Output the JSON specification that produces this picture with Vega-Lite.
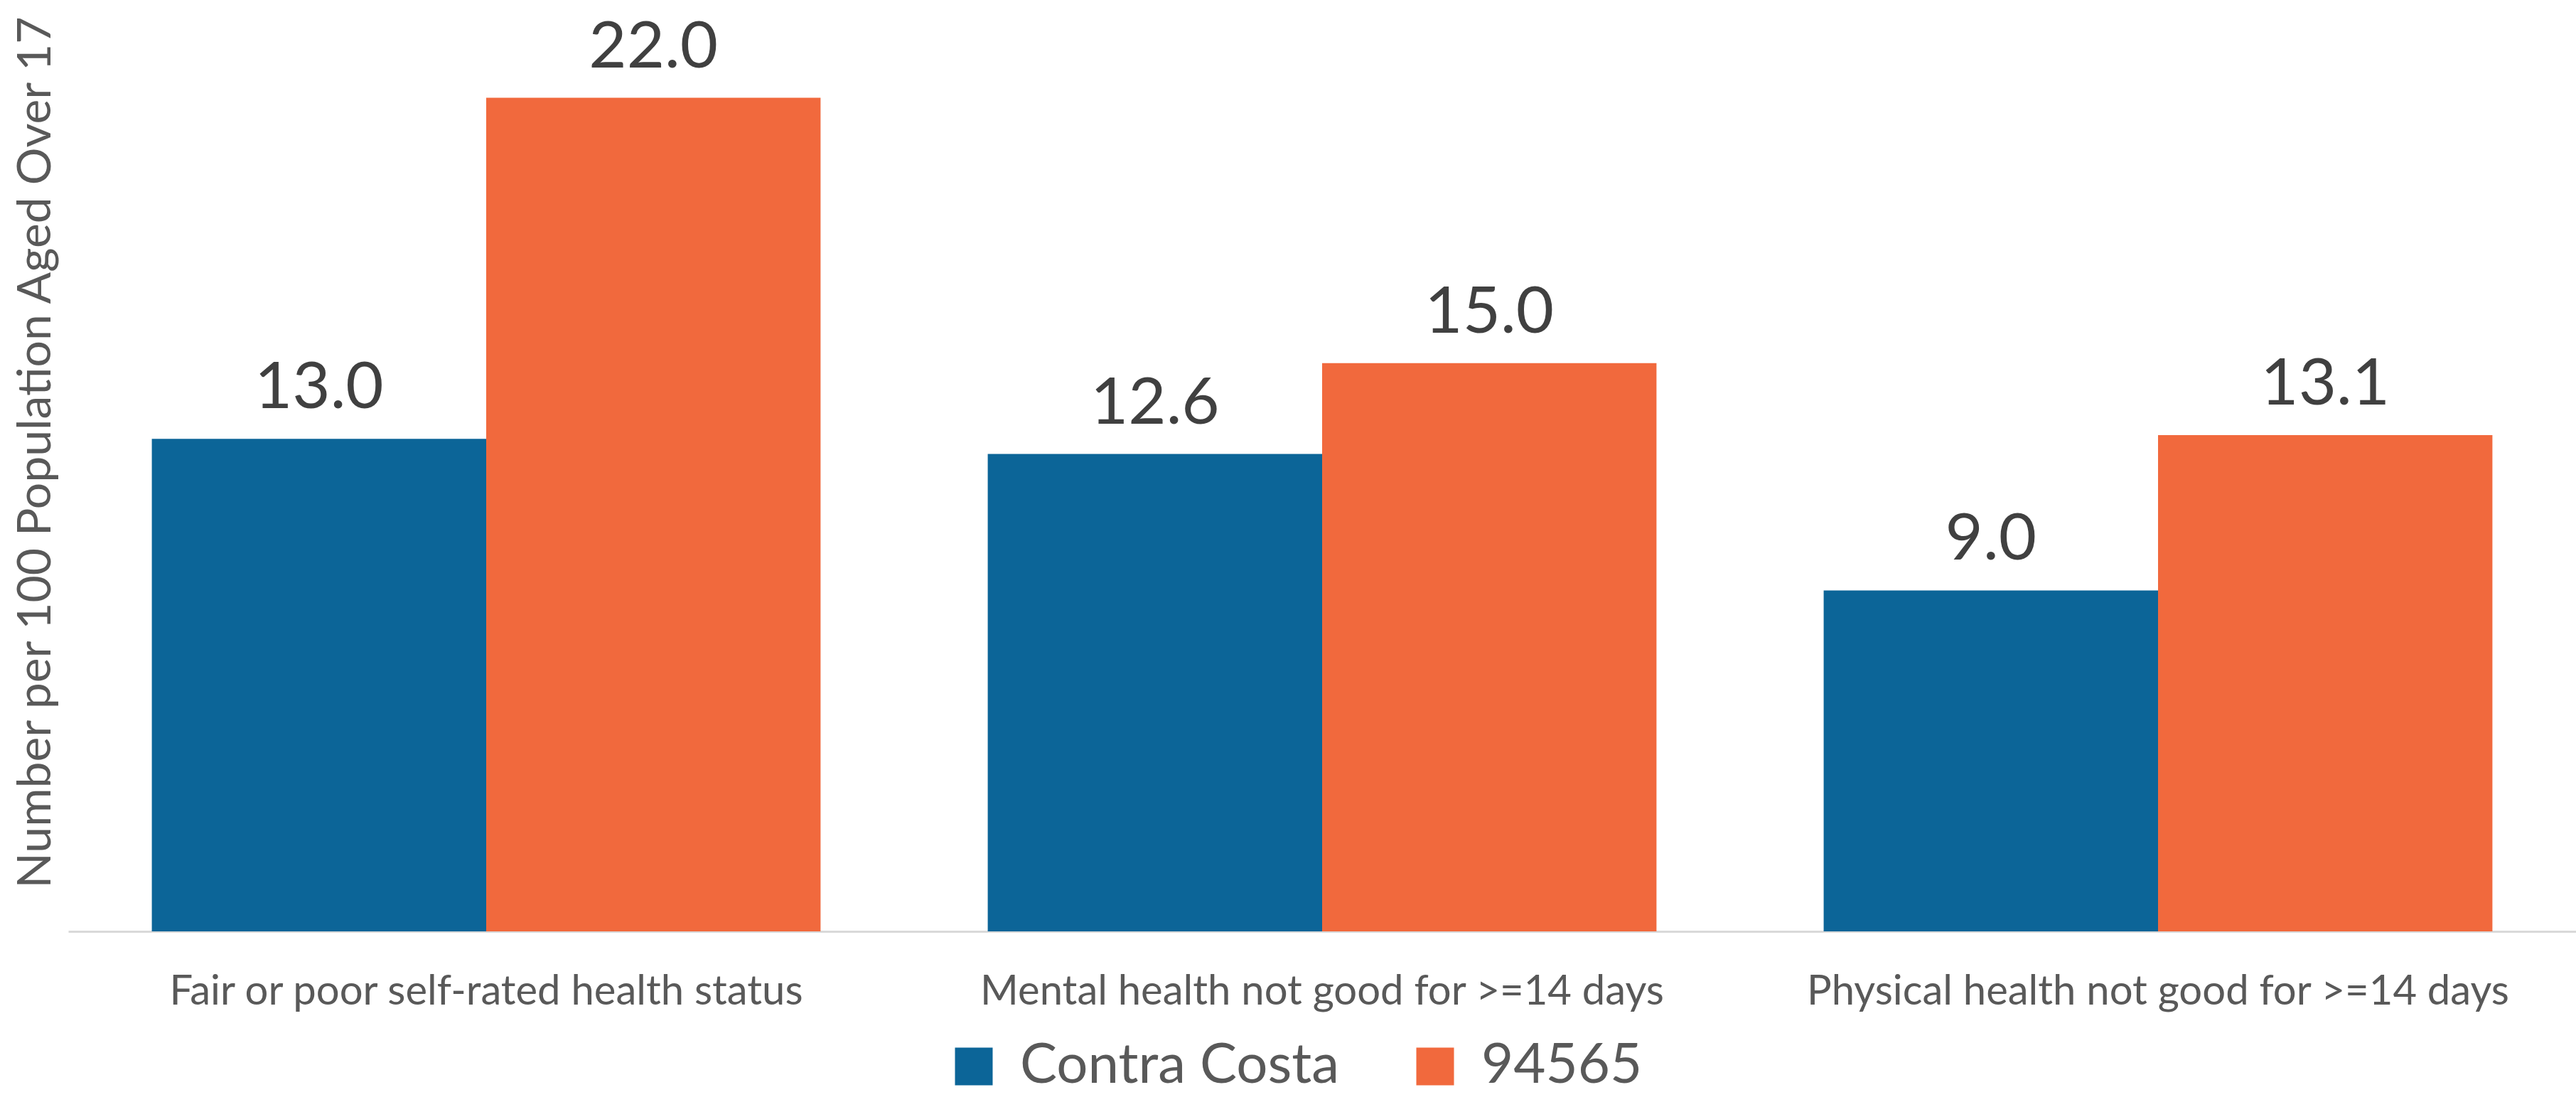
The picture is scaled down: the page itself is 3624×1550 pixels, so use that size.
{
  "$schema": "https://vega.github.io/schema/vega-lite/v6.json",
  "width": 3528,
  "height": 1279,
  "autosize": "none",
  "padding": {"left": 96, "top": 31, "right": 0, "bottom": 240},
  "background": "white",
  "config": {"view": {"stroke": null}, "font": "Lato"},
  "data": {
    "values": [
      {"measure": "Fair or poor self-rated health status", "region": "Contra Costa", "value": 13.0},
      {"measure": "Fair or poor self-rated health status", "region": "94565", "value": 22.0},
      {"measure": "Mental health not good for >=14 days", "region": "Contra Costa", "value": 12.6},
      {"measure": "Mental health not good for >=14 days", "region": "94565", "value": 15.0},
      {"measure": "Physical health not good for >=14 days", "region": "Contra Costa", "value": 9.0},
      {"measure": "Physical health not good for >=14 days", "region": "94565", "value": 13.1}
    ]
  },
  "encoding": {
    "x": {
      "field": "measure",
      "type": "nominal",
      "sort": ["Fair or poor self-rated health status", "Mental health not good for >=14 days", "Physical health not good for >=14 days"],
      "scale": {"paddingInner": 0.2, "paddingOuter": 0.1},
      "axis": {
        "title": null,
        "labelAngle": 0,
        "labelFontSize": 58,
        "labelColor": "#595959",
        "labelBaseline": "alphabetic",
        "labelPadding": 102,
        "labelLimit": 2000,
        "ticks": false,
        "domainColor": "#d9d9d9",
        "domainWidth": 3,
        "grid": false
      }
    },
    "xOffset": {
      "field": "region",
      "type": "nominal",
      "sort": ["Contra Costa", "94565"],
      "scale": {"paddingInner": 0, "paddingOuter": 0}
    },
    "y": {
      "field": "value",
      "type": "quantitative",
      "scale": {"domain": [0, 24]},
      "axis": {
        "title": "Number per 100 Population Aged Over 17",
        "titleFontSize": 66,
        "titleFontWeight": "normal",
        "titleColor": "#595959",
        "titleAngle": -90,
        "titleX": -26,
        "titleY": 605,
        "titleAlign": "center",
        "titleBaseline": "alphabetic",
        "labels": false,
        "ticks": false,
        "domain": false,
        "grid": false
      }
    }
  },
  "layer": [
    {
      "mark": {"type": "bar"},
      "encoding": {
        "color": {
          "field": "region",
          "type": "nominal",
          "sort": ["Contra Costa", "94565"],
          "scale": {"domain": ["Contra Costa", "94565"], "range": ["#0C6598", "#F1693D"]},
          "legend": {
            "title": null,
            "orient": "none",
            "direction": "horizontal",
            "legendX": 1235,
            "legendY": 1430,
            "padding": 0,
            "symbolType": "square",
            "symbolSize": 2809,
            "symbolStrokeWidth": 0,
            "labelFontSize": 78,
            "labelColor": "#595959",
            "labelOffset": 26,
            "columnPadding": 95,
            "labelLimit": 1000
          }
        }
      }
    },
    {
      "mark": {"type": "text", "baseline": "alphabetic", "dy": -43, "fontSize": 92, "color": "#404040"},
      "encoding": {
        "text": {"field": "value", "type": "quantitative", "format": ".1f"}
      }
    }
  ]
}
